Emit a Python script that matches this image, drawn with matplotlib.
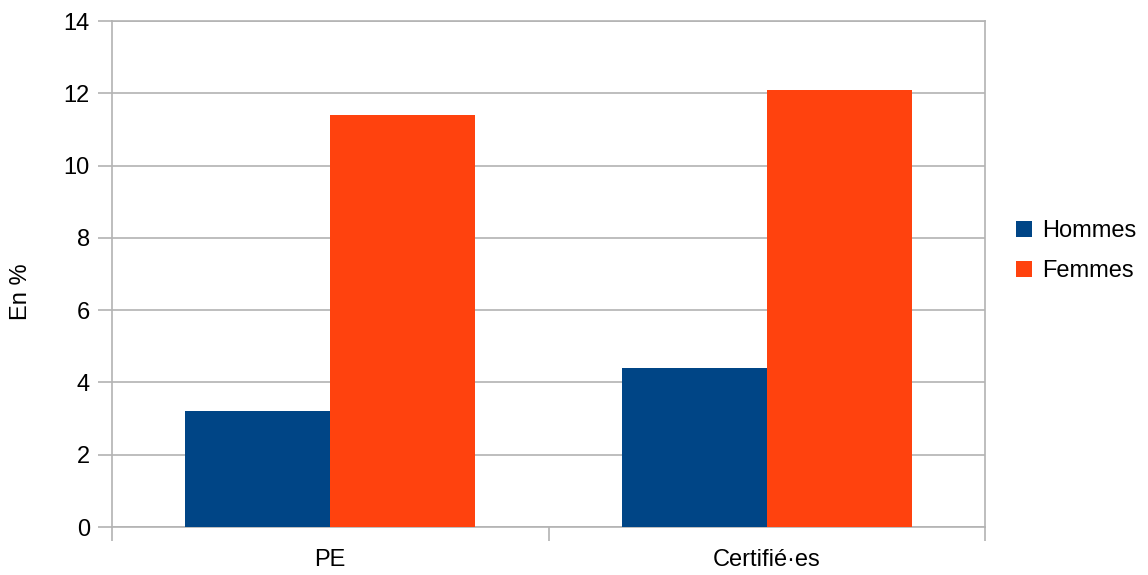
import numpy as np
import matplotlib
matplotlib.use("Agg")
import matplotlib.pyplot as plt

categories = ["PE", "Certifié·es"]
hommes = [3.2, 4.4]
femmes = [11.4, 12.1]
series_names = ["Hommes", "Femmes"]
colors = ["#004586", "#ff420e"]
yticks = [0, 2, 4, 6, 8, 10, 12, 14]

plt.rcParams['font.family'] = ['Liberation Sans', 'DejaVu Sans']
plt.rcParams['font.size'] = 17

fig = plt.figure(figsize=(11.48, 5.75), dpi=100)
ax = fig.add_axes([112 / 1148, 1 - 527 / 575, (985 - 112) / 1148, (527 - 21) / 575])

x = np.arange(len(categories))
w = 0.332
ax.bar(x - w / 2, hommes, w, color=colors[0], label=series_names[0], zorder=3)
ax.bar(x + w / 2, femmes, w, color=colors[1], label=series_names[1], zorder=3)

ax.set_xlim(-0.5, len(categories) - 0.5)
ax.set_ylim(0, 14)
ax.set_yticks(yticks)
ax.set_xticks(x)
ax.set_xticklabels(categories)
ax.set_xticks([-0.5, 0.5, 1.5], minor=True)
ax.tick_params(axis='x', which='major', length=0, pad=16)
ax.tick_params(axis='x', which='minor', length=10, color='#b3b3b3', width=1.2)
ax.tick_params(axis='y', length=10, color='#b3b3b3', width=1.2, pad=6)
ax.grid(axis='y', color='#b3b3b3', linewidth=1.2, zorder=0)
for s in ax.spines.values():
    s.set_color('#b3b3b3')
    s.set_linewidth(1.2)
ax.set_ylabel("En %")
ax.yaxis.set_label_coords(-0.092, 0.465)

ax.legend(loc='center left', bbox_to_anchor=(1.0, 0.545), frameon=False,
          borderaxespad=0.9, handlelength=0.7, handleheight=0.7,
          handletextpad=0.4, labelspacing=0.75)

fig.savefig("out.png", dpi=100)
